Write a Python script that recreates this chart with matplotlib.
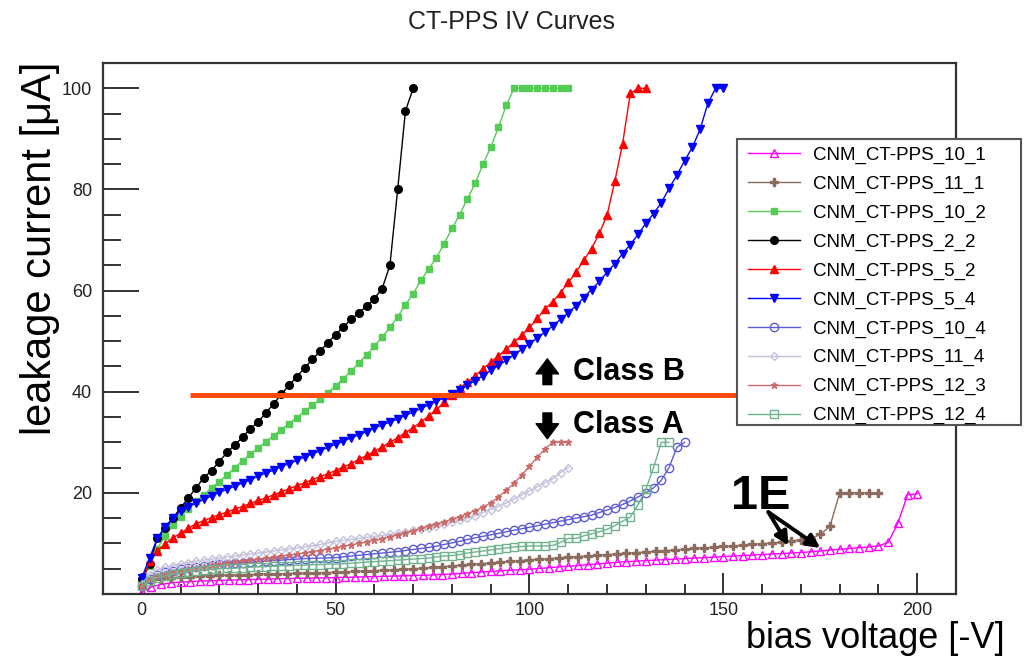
import numpy as np
import matplotlib.pyplot as plt
from matplotlib.patches import Rectangle

plt.rcParams['font.family'] = ['Liberation Sans', 'DejaVu Sans']

# leakage current [uA] per bias step, one list per sensor
step_2v = 2.0
step_25v = 2.5

i_10_1 = [0.3, 1.4, 1.9, 2.2, 2.35, 2.45, 2.55, 2.62, 2.7, 2.75,
          2.8, 2.85, 2.9, 2.95, 3.0, 3.05, 3.1, 3.13, 3.17, 3.2,
          3.25, 3.3, 3.35, 3.4, 3.45, 3.5, 3.55, 3.6, 3.65, 3.7,
          3.75, 3.85, 3.95, 4.1, 4.2, 4.35, 4.45, 4.6, 4.7, 4.8,
          4.9, 5.05, 5.2, 5.35, 5.5, 5.65, 5.8, 5.95, 6.1, 6.25,
          6.4, 6.5, 6.6, 6.7, 6.8, 6.9, 7.0, 7.1, 7.2, 7.3,
          7.4, 7.5, 7.6, 7.7, 7.8, 7.9, 8.0, 8.1, 8.2, 8.35,
          8.5, 8.7, 8.85, 9.0, 9.15, 9.3, 9.5, 10.2, 14.0, 19.6, 19.8]

i_11_1 = [1.5, 2.6, 3.0, 3.2, 3.35, 3.45, 3.55, 3.65, 3.7, 3.75,
          3.8, 3.85, 3.9, 3.95, 4.0, 4.05, 4.1, 4.15, 4.2, 4.25,
          4.3, 4.38, 4.46, 4.54, 4.62, 4.7, 4.8, 4.9, 5.0, 5.1,
          5.25, 5.4, 5.55, 5.7, 5.85, 6.0, 6.15, 6.3, 6.45, 6.6,
          6.75, 6.9, 7.0, 7.15, 7.3, 7.4, 7.5, 7.65, 7.8, 7.9,
          8.05, 8.2, 8.3, 8.45, 8.6, 8.7, 8.85, 9.0, 9.1, 9.25,
          9.4, 9.5, 9.65, 9.8, 9.95, 10.1, 10.3, 10.5, 10.7, 10.9,
          11.8, 13.4, 20, 20, 20, 20, 20]

i_10_2 = [2.5, 5.5, 8.9, 11.5, 13.6, 15.3, 16.9, 18.3, 19.6, 21,
          22.2, 23.6, 25, 26.3, 27.6, 28.9, 30.1, 31.3, 32.5, 33.7,
          34.9, 36.1, 37.3, 38.5, 39.8, 41.2, 42.6, 44.1, 45.7, 47.3,
          49, 50.8, 52.7, 54.8, 57.2, 59.4, 62, 64.3, 66.5, 69.3,
          72.3, 75, 78.2, 81.2, 85, 88.3, 92.3, 96.6,
          100, 100, 100, 100, 100, 100, 100, 100]

i_2_2 = [3, 6, 11, 13, 15, 17, 19, 21, 23, 24.4,
         26.2, 28, 29.5, 31, 32.7, 34, 35.8, 37.6, 39.5, 41.3,
         43, 44.7, 46.4, 48, 49.7, 51.3, 52.8, 54.3, 55.6, 56.9,
         58.4, 60.4, 65, 80, 95.5, 100]

i_5_2 = [2, 6.5, 8.5, 9.9, 11.1, 12, 13, 13.9, 14.5, 15.1,
         15.7, 16.2, 16.8, 17.3, 17.9, 18.5, 19, 19.6, 20.2, 20.8,
         21.4, 22, 22.6, 23.2, 23.8, 24.4, 25.1, 25.8, 26.6, 27.4,
         28.2, 29.1, 30, 30.9, 31.9, 32.9, 34, 35.2, 36.5, 37.9,
         39.4, 40.7, 41.9, 43.2, 44.5, 45.8, 47.1, 48.4, 49.8, 51.2,
         52.7, 54.5, 56.4, 57.8, 59.6, 61.6, 63.6, 66, 68.3, 71.3,
         74.9, 81.6, 89, 99, 100, 100]

i_5_4 = [3.2, 7.1, 11, 13.3, 15, 16.4, 17.2, 18, 18.7, 19.4,
         20.1, 20.7, 21.3, 22, 22.6, 23.3, 23.9, 24.5, 25.2, 25.8,
         26.4, 27.1, 27.7, 28.3, 29, 29.6, 30.2, 30.9, 31.5, 32.1,
         32.8, 33.4, 34, 34.6, 35.3, 36, 36.7, 37.4, 38.1, 38.8,
         39.5, 40.4, 41.3, 42.2, 43.2, 44.2, 45.2, 46.2, 47.3, 48.4,
         49.5, 50.6, 51.8, 53, 54.3, 55.6, 57, 58.6, 60.2, 61.8,
         63.6, 65.3, 67.3, 69.1, 71.1, 73.3, 75.2, 77.4, 80.2, 82.8,
         85.7, 88.3, 91.9, 97, 100, 100]

i_10_4 = [1.5, 3, 3.8, 4.3, 4.6, 4.9, 5.1, 5.3, 5.5, 5.7,
          5.9, 6, 6.1, 6.2, 6.3, 6.4, 6.5, 6.6, 6.7, 6.8,
          6.9, 7, 7.05, 7.1, 7.15, 7.2, 7.35, 7.5, 7.65, 7.8,
          7.95, 8.1, 8.25, 8.4, 8.6, 8.8, 9, 9.2, 9.45, 9.8,
          10.1, 10.4, 10.8, 11.1, 11.4, 11.7, 12, 12.3, 12.6, 12.9,
          13.2, 13.5, 13.8, 14.1, 14.4, 14.7, 15, 15.3, 15.6, 16.1,
          16.6, 17.1, 17.7, 18.4, 19.2, 20, 21, 22.5, 25, 29, 30]

i_11_4 = [2, 3.8, 4.8, 5.3, 5.6, 5.9, 6.2, 6.5, 6.7, 6.9,
          7.1, 7.3, 7.5, 7.7, 7.9, 8.1, 8.3, 8.5, 8.7, 8.9,
          9.1, 9.3, 9.5, 9.8, 10.1, 10.4, 10.6, 10.8, 11, 11.2,
          11.4, 11.6, 11.8, 12, 12.3, 12.6, 12.9, 13.1, 13.5, 13.9,
          14.2, 14.6, 15, 15.5, 16.1, 16.7, 17.3, 18, 18.8, 19.6,
          20.4, 21.2, 22, 22.8, 24, 25]

i_12_3 = [1.5, 3, 3.6, 4, 4.3, 4.6, 4.9, 5.2, 5.4, 5.7,
          5.9, 6.1, 6.3, 6.5, 6.7, 6.9, 7.1, 7.3, 7.5, 7.7,
          7.9, 8.1, 8.4, 8.6, 8.9, 9.1, 9.4, 9.7, 10, 10.3,
          10.6, 10.9, 11.3, 11.7, 12.1, 12.5, 13, 13.5, 13.9, 14.3,
          14.8, 15.3, 15.9, 16.5, 17.2, 18, 19.2, 20.5, 21.9, 23.5,
          25.3, 27, 28.7, 30, 30, 30]

i_12_4 = [1.5, 2.5, 3.2, 3.6, 3.9, 4.2, 4.4, 4.6, 4.8, 4.9,
          5, 5.1, 5.1, 5.2, 5.3, 5.4, 5.4, 5.5, 5.6, 5.6,
          5.7, 5.7, 5.8, 5.8, 5.9, 5.9, 6, 6.1, 6.2, 6.3,
          6.4, 6.5, 6.6, 6.7, 6.8, 6.9, 7, 7.1, 7.3, 7.5,
          7.6, 7.8, 8.1, 8.3, 8.5, 8.7, 8.9, 9.1, 9.3, 9.4,
          9.5, 9.5, 9.5, 9.6, 10.2, 11, 11, 11.5, 11.9, 12.3,
          12.8, 13.5, 14.4, 15.2, 17.6, 20.7, 25, 30, 30]

names = ['CNM_CT-PPS_10_1', 'CNM_CT-PPS_11_1', 'CNM_CT-PPS_10_2',
         'CNM_CT-PPS_2_2', 'CNM_CT-PPS_5_2', 'CNM_CT-PPS_5_4',
         'CNM_CT-PPS_10_4', 'CNM_CT-PPS_11_4', 'CNM_CT-PPS_12_3',
         'CNM_CT-PPS_12_4']
currents = [i_10_1, i_11_1, i_10_2, i_2_2, i_5_2, i_5_4,
            i_10_4, i_11_4, i_12_3, i_12_4]
steps = [step_25v, step_25v, step_2v, step_2v, step_2v, step_2v,
         step_2v, step_2v, step_2v, step_2v]

# (colour, marker, size, filled)
styles = [('#ff00ff', '^', 6, False),
          ('#8c6c5e', 'P', 5.5, True),
          ('#55cc55', 's', 5, True),
          ('#000000', 'o', 5.5, True),
          ('#ff0000', '^', 6, True),
          ('#0000ff', 'v', 6, True),
          ('#5c5cd6', 'o', 6, False),
          ('#c4c2da', 'D', 4, False),
          ('#cc6a6a', '*', 5, True),
          ('#6fb38e', 's', 5.5, False)]

class_line_y = 39.4

W, H = 1025, 657
fig = plt.figure(figsize=(W / 100, H / 100), dpi=100)
ax = fig.add_axes([103 / W, 1 - 594 / H, 853 / W, 531 / H])

for name, cur, st, (col, mk, ms, filled) in zip(names, currents, steps, styles):
    v = np.arange(len(cur)) * st
    ax.plot(v, cur, color=col, lw=1.0, marker=mk, ms=ms,
            mfc=col if filled else 'none', mec=col, mew=1.0, label=name)

ax.plot([12.4, 156], [class_line_y, class_line_y], color='#ff4a0a', lw=3.6,
        solid_capstyle='butt', zorder=5)

ax.set_xlim(-10, 210)
ax.set_ylim(0, 105)
ax.set_xticks([0, 50, 100, 150, 200])
ax.set_xticks(np.arange(-10, 211, 10), minor=True)
ax.set_yticks([20, 40, 60, 80, 100])
ax.set_yticks(np.arange(5, 105, 5), minor=True)
ax.tick_params(axis='both', which='both', direction='in', top=False, right=False,
               labelsize=13, colors='#222222', width=1.3)
ax.tick_params(axis='y', which='major', length=26, pad=8)
ax.tick_params(axis='y', which='minor', length=13)
ax.tick_params(axis='x', which='major', length=15, pad=6)
ax.tick_params(axis='x', which='minor', length=7)
for sp in ax.spines.values():
    sp.set_linewidth(1.6)
    sp.set_color('#333333')

# class boundary labels
arrow_kw = dict(arrowstyle='simple,head_length=0.6,head_width=0.9,tail_width=0.35',
                color='black', mutation_scale=18, shrinkA=0, shrinkB=0)
ax.annotate('', xy=(104.6, 46.5), xytext=(104.6, 41.4), arrowprops=arrow_kw)
ax.annotate('', xy=(104.6, 30.7), xytext=(104.6, 35.8), arrowprops=arrow_kw)
ax.text(111.3, 43.9, 'Class B', fontsize=22, fontweight='bold', va='center', ha='left')
ax.text(111.3, 33.4, 'Class A', fontsize=22, fontweight='bold', va='center', ha='left')

ax.text(159.6, 19.3, '1E', fontsize=35, fontweight='bold', va='center', ha='center')
for tip in [(166.8, 9.6), (175.0, 9.1)]:
    ax.annotate('', xy=tip, xytext=(161.6, 16.2),
                arrowprops=dict(arrowstyle='-|>', color='black', lw=2.8,
                                mutation_scale=20, shrinkA=0, shrinkB=0))

# legend box sits partly outside the axes
box = Rectangle((737 / W, 1 - 425 / H), (1021 - 737) / W, (425 - 139) / H,
                transform=fig.transFigure, facecolor='white', edgecolor='#555555',
                lw=1.5, zorder=4)
fig.patches.append(box)
leg = fig.legend(loc='upper left', bbox_to_anchor=(741 / W, 1 - 140 / H),
                 fontsize=13.5, frameon=False, borderaxespad=0,
                 handlelength=2.8, handletextpad=0.7, labelspacing=0.62,
                 borderpad=0.35)
leg.set_zorder(5)

fig.text(512 / W, 1 - 22 / H, 'CT-PPS IV Curves', fontsize=18,
         ha='center', va='center', color='#222222')
fig.text(40 / W, 1 - 62 / H, 'leakage current [\u03bcA]', fontsize=30,
         rotation=90, ha='center', va='top')
fig.text(1005 / W, 1 - 621 / H, 'bias voltage [-V]', fontsize=26,
         ha='right', va='top')

fig.savefig('out.png', dpi=100)
